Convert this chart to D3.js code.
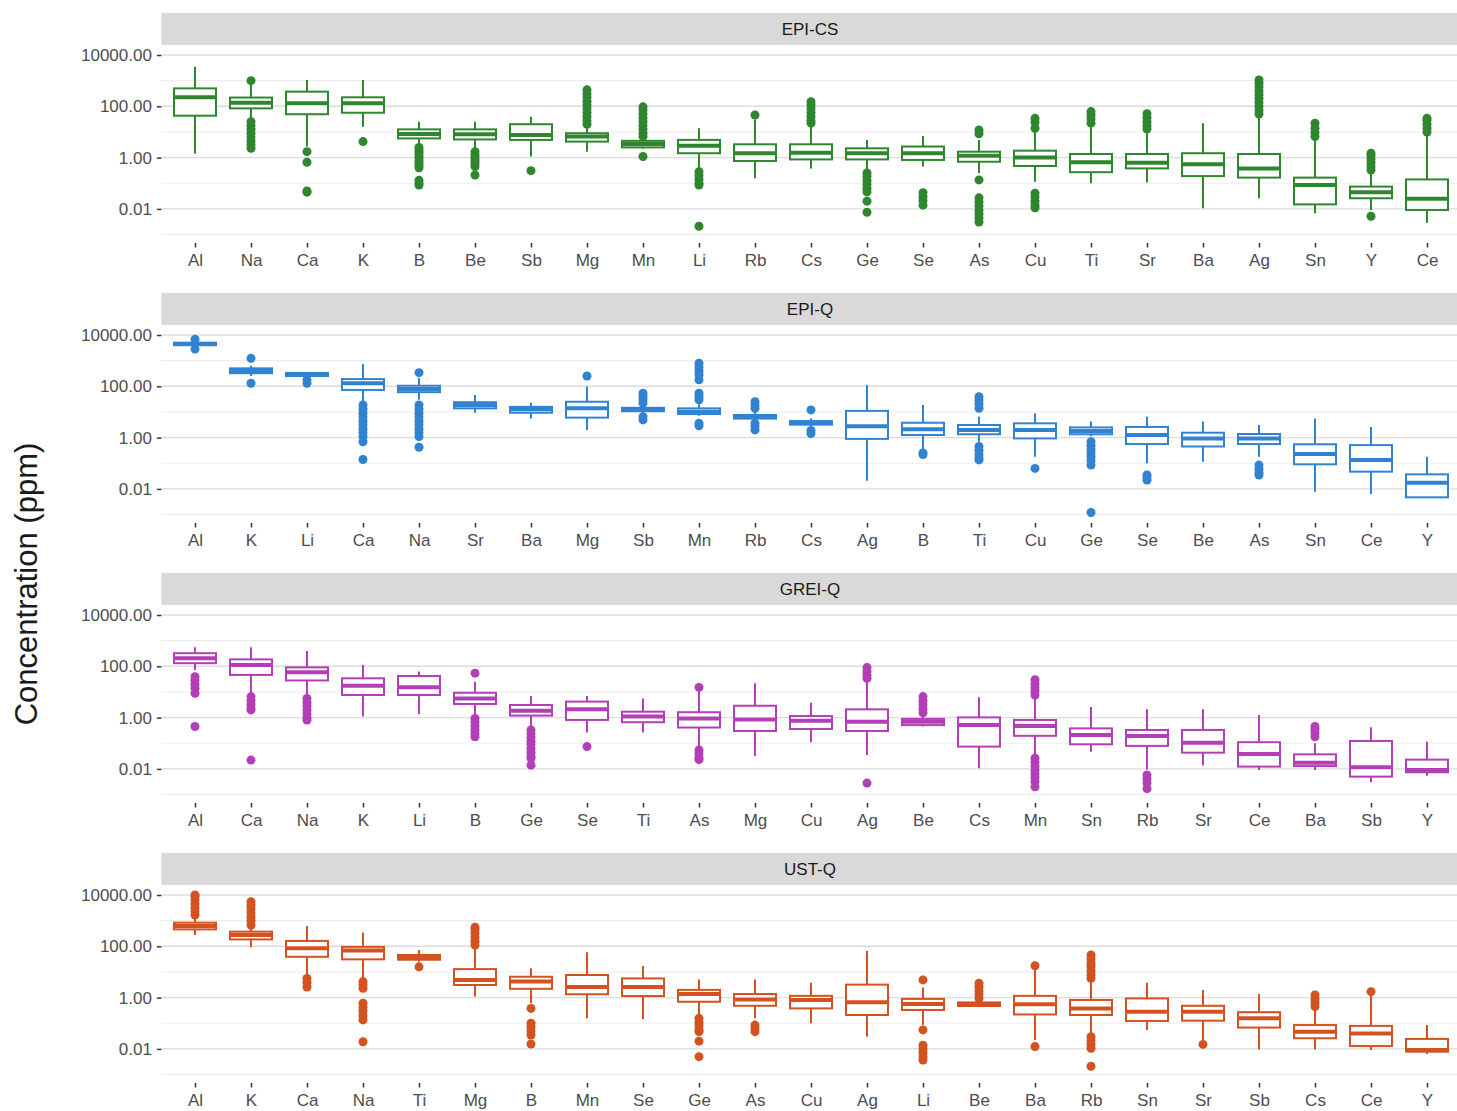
<!DOCTYPE html>
<html>
<head>
<meta charset="utf-8">
<script src="https://cdn.jsdelivr.net/npm/d3@7"></script>
<style>
  html, body { margin: 0; padding: 0; background: #ffffff; }
  svg { display: block; }
  text { font-family: "Liberation Sans", Arial, sans-serif; }
</style>
</head>
<body>
<svg id="chart" width="1457" height="1111"></svg>
<script>
// ---------------- DATA (ppm) ----------------
const facetTitles = ["EPI-CS", "EPI-Q", "GREI-Q", "UST-Q"];
const facetColors = ["#2f862f", "#3282d2", "#b23fb5", "#d35220"];
const yTickValues = [0.01, 1, 100, 10000];
const yMinorValues = [0.001, 0.1, 10, 1000];

// EPI-CS
const epiCsElements = ["Al","Na","Ca","K","B","Be","Sb","Mg","Mn","Li","Rb","Cs","Ge","Se","As","Cu","Ti","Sr","Ba","Ag","Sn","Y","Ce"];
const epiCsLow    = [1.4, 30, 2.7, 16, 2.7, 2.0, 1.1, 1.7, 2.2, 0.33, 0.155, 0.38, 0.33, 0.45, 0.245, 0.115, 0.1, 0.107, 0.0105, 0.026, 0.0068, 0.0091, 0.0029];
const epiCsQ1     = [43, 83, 49, 56, 5.6, 5.1, 4.9, 4.2, 2.5, 1.48, 0.74, 0.85, 0.85, 0.81, 0.69, 0.47, 0.27, 0.38, 0.19, 0.166, 0.015, 0.026, 0.0091];
const epiCsMedian = [224, 138, 132, 132, 8.3, 8.1, 7.6, 6.6, 3.4, 2.9, 1.48, 1.55, 1.48, 1.48, 1.17, 1.0, 0.66, 0.63, 0.55, 0.38, 0.085, 0.045, 0.025];
const epiCsQ3     = [500, 219, 372, 224, 12.6, 12.6, 20, 8.9, 4.5, 4.9, 3.3, 3.3, 2.3, 2.7, 1.7, 1.86, 1.38, 1.38, 1.48, 1.38, 0.166, 0.074, 0.141];
const epiCsHigh   = [3470, 676, 1070, 1070, 25, 25, 39, 16, 6.3, 13.8, 30, 16, 4.9, 6.9, 4.9, 10, 16, 8.9, 22, 39, 6.3, 0.25, 8.9];
const epiCsOutliers = [
  [],
  [1000, 25, 18, 12.6, 8.9, 6.3, 4.5, 3.2, 2.3],
  [1.7, 0.66, 0.05, 0.045],
  [4.2],
  [2.5, 2.0, 1.6, 1.26, 1.0, 0.79, 0.63, 0.5, 0.4, 0.13, 0.1, 0.085],
  [1.7, 1.26, 1.0, 0.79, 0.6, 0.45, 0.21],
  [0.31],
  [20, 28, 40, 56, 79, 112, 158, 224, 316, 437],
  [6.6, 8.9, 12.6, 17.8, 25, 35, 50, 71, 95, 1.1],
  [0.28, 0.2, 0.14, 0.1, 0.085, 0.0021],
  [46],
  [22, 28, 40, 56, 79, 112, 151],
  [0.25, 0.18, 0.126, 0.089, 0.063, 0.046, 0.02, 0.0074],
  [0.043, 0.03, 0.021, 0.014],
  [12, 8.5, 0.135, 0.027, 0.019, 0.013, 0.0089, 0.0063, 0.0045, 0.0031],
  [34, 24, 14, 0.041, 0.029, 0.02, 0.014, 0.011],
  [22, 32, 45, 62],
  [13, 18, 25, 36, 51],
  [],
  [50, 71, 100, 141, 200, 282, 398, 562, 794, 1070],
  [6.6, 9.5, 14, 22],
  [0.33, 0.45, 0.63, 0.89, 1.2, 1.48, 0.0052],
  [10, 14, 20, 28, 34]
];

// EPI-Q
const epiQElements = ["Al","K","Li","Ca","Na","Sr","Ba","Mg","Sb","Mn","Rb","Cs","Ag","B","Ti","Cu","Ge","Se","Be","As","Sn","Ce","Y"];
const epiQLow    = [3800, 251, 229, 22, 30, 9.3, 5.6, 2.0, 8.9, 7.1, 5.0, 2.8, 0.021, 0.35, 0.69, 0.18, 1.12, 0.1, 0.115, 0.18, 0.0078, 0.0063, 0.0045];
const epiQQ1     = [3980, 324, 251, 72, 59, 13.8, 9.3, 6.0, 10.7, 8.3, 5.5, 3.2, 0.89, 1.26, 1.35, 0.93, 1.35, 0.56, 0.45, 0.56, 0.091, 0.047, 0.0047];
const epiQMedian = [4470, 398, 295, 132, 78, 18.6, 12.6, 13.8, 12.6, 10.2, 6.5, 3.8, 2.8, 2.1, 2.0, 2.0, 1.82, 1.26, 0.93, 0.93, 0.23, 0.135, 0.0174];
const epiQQ3     = [5010, 501, 331, 191, 105, 24, 15.8, 25, 14.5, 13.8, 7.6, 4.4, 11, 3.8, 3.1, 3.6, 2.5, 2.6, 1.55, 1.38, 0.55, 0.51, 0.037];
const epiQHigh   = [5250, 631, 355, 741, 209, 46, 23, 98, 17.8, 20, 10, 5.6, 112, 18.6, 6.5, 8.9, 4.2, 6.5, 4.2, 3.1, 5.6, 2.6, 0.18];
const epiQOutliers = [
  [6760, 2820],
  [1230, 132],
  [178, 132],
  [18.6, 12.6, 8.9, 6.3, 4.5, 3.2, 2.2, 1.58, 1.12, 0.69, 0.14],
  [339, 18.6, 12.6, 8.9, 6.3, 4.5, 3.2, 2.2, 1.58, 1.1, 0.42],
  [],
  [],
  [251],
  [54, 40, 30, 22, 6.5, 4.9],
  [794, 562, 398, 282, 178, 54, 40, 30, 3.6, 2.9],
  [25, 18, 13.8, 3.6, 2.8, 2.0],
  [12, 1.9, 1.45],
  [],
  [0.25, 0.22],
  [39, 28, 20, 13.8, 0.45, 0.32, 0.22, 0.16, 0.135],
  [0.063],
  [0.69, 0.5, 0.35, 0.25, 0.18, 0.126, 0.085, 0.0012],
  [0.035, 0.028, 0.022],
  [],
  [0.085, 0.06, 0.043, 0.035],
  [],
  [],
  []
];

// GREI-Q
const greiQElements = ["Al","Ca","Na","K","Li","B","Ge","Se","Ti","As","Mg","Cu","Ag","Be","Cs","Mn","Sn","Rb","Sr","Ce","Ba","Sb","Y"];
const greiQLow    = [72, 8.9, 6.6, 1.1, 1.35, 1.1, 0.45, 0.26, 0.26, 0.063, 0.032, 0.11, 0.035, 0.45, 0.0105, 0.03, 0.047, 0.0095, 0.014, 0.0091, 0.0091, 0.003, 0.0054];
const greiQQ1     = [132, 46, 28, 7.6, 7.6, 3.4, 1.2, 0.81, 0.66, 0.41, 0.30, 0.36, 0.30, 0.51, 0.074, 0.195, 0.091, 0.079, 0.043, 0.0123, 0.0129, 0.005, 0.0074];
const greiQMedian = [204, 112, 59, 17.4, 15.1, 5.6, 1.86, 2.1, 1.1, 0.93, 0.85, 0.76, 0.69, 0.69, 0.51, 0.47, 0.21, 0.19, 0.105, 0.038, 0.0174, 0.0115, 0.0091];
const greiQQ3     = [324, 186, 91, 34, 42, 9.3, 3.1, 4.2, 1.7, 1.62, 2.9, 1.15, 2.1, 0.89, 1.02, 0.81, 0.38, 0.33, 0.33, 0.11, 0.037, 0.123, 0.023];
const greiQHigh   = [550, 550, 398, 112, 62, 25, 6.9, 6.9, 5.6, 10.2, 22, 3.8, 25, 1.26, 6.2, 7.1, 2.6, 2.1, 2.1, 1.26, 0.1, 0.42, 0.115];
const greiQOutliers = [
  [39, 28, 20, 14, 8.9, 0.45],
  [6.6, 4.7, 3.3, 2.4, 2.0, 0.022],
  [5.6, 4.0, 2.8, 2.0, 1.4, 1.0, 0.81],
  [],
  [],
  [54, 0.93, 0.66, 0.47, 0.33, 0.24, 0.18],
  [0.33, 0.24, 0.17, 0.12, 0.089, 0.063, 0.045, 0.032, 0.026, 0.014],
  [0.074],
  [],
  [15, 0.055, 0.04, 0.028, 0.023],
  [],
  [],
  [34, 45, 63, 89, 0.0028],
  [1.55, 2.2, 3.2, 4.5, 6.6],
  [],
  [7.6, 10.7, 15, 21, 30, 0.026, 0.018, 0.0126, 0.0089, 0.0063, 0.0045, 0.0032, 0.002],
  [],
  [0.0058, 0.004, 0.0028, 0.0017],
  [],
  [],
  [0.18, 0.25, 0.35, 0.45],
  [],
  []
];

// UST-Q
const ustQElements = ["Al","K","Ca","Na","Ti","Mg","B","Mn","Se","Ge","As","Cu","Ag","Li","Be","Ba","Rb","Sn","Sr","Sb","Cs","Ce","Y"];
const ustQLow    = [275, 91, 7.6, 5.6, 25, 1.1, 0.6, 0.155, 0.145, 0.21, 0.155, 0.1, 0.03, 0.085, 0.47, 0.022, 0.04, 0.055, 0.022, 0.0095, 0.0095, 0.0091, 0.0063];
const ustQQ1     = [457, 186, 39, 31, 30, 3.1, 2.2, 1.35, 1.15, 0.69, 0.48, 0.38, 0.21, 0.33, 0.47, 0.22, 0.21, 0.123, 0.126, 0.068, 0.026, 0.0129, 0.0078];
const ustQMedian = [617, 275, 83, 68, 37, 4.9, 4.2, 2.6, 2.6, 1.38, 0.85, 0.81, 0.66, 0.56, 0.55, 0.55, 0.38, 0.28, 0.28, 0.155, 0.047, 0.04, 0.0091];
const ustQQ3     = [832, 372, 162, 95, 46, 12.9, 6.5, 7.6, 5.6, 2.0, 1.38, 1.17, 3.2, 0.89, 0.65, 1.17, 0.81, 0.93, 0.48, 0.27, 0.085, 0.079, 0.0245];
const ustQHigh   = [1230, 501, 617, 339, 72, 89, 13.8, 59, 17, 5.1, 5.1, 3.8, 66, 2.5, 0.76, 12.6, 4.0, 3.8, 2.0, 1.38, 0.35, 1.58, 0.085];
const ustQOutliers = [
  [1660, 2240, 3160, 4470, 6310, 8910, 10000],
  [676, 1000, 1410, 2000, 2820, 3980, 5500],
  [5.6, 4.0, 2.6],
  [4.2, 3.2, 2.3, 0.6, 0.42, 0.3, 0.2, 0.135, 0.019],
  [15.8],
  [112, 158, 224, 316, 447, 550],
  [0.38, 0.1, 0.071, 0.05, 0.035, 0.0155],
  [],
  [],
  [0.155, 0.11, 0.08, 0.056, 0.047, 0.02, 0.005],
  [0.085, 0.063, 0.047],
  [],
  [],
  [4.9, 0.055, 0.014, 0.01, 0.0071, 0.005, 0.0037],
  [0.93, 1.3, 1.8, 2.6, 3.6],
  [17.4, 0.0123],
  [5.6, 7.9, 11, 16, 22, 32, 46, 0.03, 0.021, 0.015, 0.0105, 0.0021],
  [],
  [0.015],
  [],
  [0.45, 0.63, 0.89, 1.26],
  [1.7],
  []
];

// ---------------- BUILD ----------------
const facets = [
  {elements: epiCsElements, low: epiCsLow, q1: epiCsQ1, med: epiCsMedian, q3: epiCsQ3, high: epiCsHigh, out: epiCsOutliers},
  {elements: epiQElements, low: epiQLow, q1: epiQQ1, med: epiQMedian, q3: epiQQ3, high: epiQHigh, out: epiQOutliers},
  {elements: greiQElements, low: greiQLow, q1: greiQQ1, med: greiQMedian, q3: greiQQ3, high: greiQHigh, out: greiQOutliers},
  {elements: ustQElements, low: ustQLow, q1: ustQQ1, med: ustQMedian, q3: ustQQ3, high: ustQHigh, out: ustQOutliers}
];

const svg = d3.select("#chart");
svg.append("rect").attr("width", 1457).attr("height", 1111).attr("fill", "#ffffff");

const panelLeft = 161.4, panelRight = 1460.6;
const facetStep = 280;
const stripTop = 13, stripBottom = 45, panelTop = 46, panelBottom = 242;

const y = d3.scaleLog().domain([0.000513, 22400]).range([panelBottom, panelTop]);
const fmt = d3.format(".2f");

facets.forEach((f, i) => {
  const color = facetColors[i];
  const g = svg.append("g").attr("transform", `translate(0,${i * facetStep})`);
  const x = d3.scalePoint().domain(f.elements).range([panelLeft, panelRight]).padding(0.6);
  const bw = x.step() * 0.75;

  // strip
  g.append("rect").attr("x", panelLeft).attr("y", stripTop)
    .attr("width", panelRight - panelLeft).attr("height", stripBottom - stripTop)
    .attr("fill", "#d9d9d9");
  g.append("text").attr("x", (panelLeft + panelRight) / 2 - 1).attr("y", 35)
    .attr("text-anchor", "middle").attr("font-size", 17).attr("fill", "#1a1a1a")
    .text(facetTitles[i]);

  // grid
  g.append("g").selectAll("line").data(yMinorValues).join("line")
    .attr("x1", panelLeft).attr("x2", panelRight)
    .attr("y1", d => y(d)).attr("y2", d => y(d))
    .attr("stroke", "#ececec").attr("stroke-width", 1.1);
  g.append("g").selectAll("line").data(yTickValues).join("line")
    .attr("x1", panelLeft).attr("x2", panelRight)
    .attr("y1", d => y(d)).attr("y2", d => y(d))
    .attr("stroke", "#dcdcdc").attr("stroke-width", 1.4);

  // y axis
  const ya = g.append("g").attr("transform", `translate(${panelLeft},0)`)
    .call(d3.axisLeft(y).tickValues(yTickValues).tickFormat(fmt).tickSize(4.5).tickPadding(5));
  ya.select(".domain").remove();
  ya.selectAll(".tick line").attr("stroke", "#333333").attr("stroke-width", 1.5);
  ya.selectAll(".tick text").attr("font-size", 17).attr("fill", "#4d4d4d")
    .attr("font-family", "'Liberation Sans', Arial, sans-serif");

  // x axis
  const xa = g.append("g").attr("transform", `translate(0,${panelBottom + 1})`)
    .call(d3.axisBottom(x).tickSize(4.5).tickPadding(6));
  xa.select(".domain").remove();
  xa.selectAll(".tick line").attr("stroke", "#333333").attr("stroke-width", 1.5);
  xa.selectAll(".tick text").attr("font-size", 17).attr("fill", "#4d4d4d")
    .attr("font-family", "'Liberation Sans', Arial, sans-serif");

  // boxes
  const rows = f.elements.map((el, j) => ({
    el, low: f.low[j], q1: f.q1[j], med: f.med[j], q3: f.q3[j], high: f.high[j], out: f.out[j]
  }));
  const bg = g.append("g");
  const box = bg.selectAll("g.box").data(rows).join("g").attr("class", "box");

  box.append("line").attr("x1", d => x(d.el)).attr("x2", d => x(d.el))
    .attr("y1", d => y(d.high)).attr("y2", d => y(d.q3))
    .attr("stroke", color).attr("stroke-width", 2);
  box.append("line").attr("x1", d => x(d.el)).attr("x2", d => x(d.el))
    .attr("y1", d => y(d.q1)).attr("y2", d => y(d.low))
    .attr("stroke", color).attr("stroke-width", 2);
  box.append("rect").attr("x", d => x(d.el) - bw / 2).attr("width", bw)
    .attr("y", d => y(d.q3)).attr("height", d => Math.max(0.5, y(d.q1) - y(d.q3)))
    .attr("fill", "#ffffff").attr("stroke", color).attr("stroke-width", 2);
  box.append("line").attr("x1", d => x(d.el) - bw / 2).attr("x2", d => x(d.el) + bw / 2)
    .attr("y1", d => y(d.med)).attr("y2", d => y(d.med))
    .attr("stroke", color).attr("stroke-width", 4);
  box.selectAll("circle").data(d => d.out.map(v => ({el: d.el, v}))).join("circle")
    .attr("cx", d => x(d.el)).attr("cy", d => y(d.v)).attr("r", 4.5)
    .attr("fill", color);
});

// y title
svg.append("text")
  .attr("transform", `translate(37,584) rotate(-90)`)
  .attr("text-anchor", "middle").attr("font-size", 31).attr("fill", "#1a1a1a")
  .text("Concentration (ppm)");
</script>
</body>
</html>
